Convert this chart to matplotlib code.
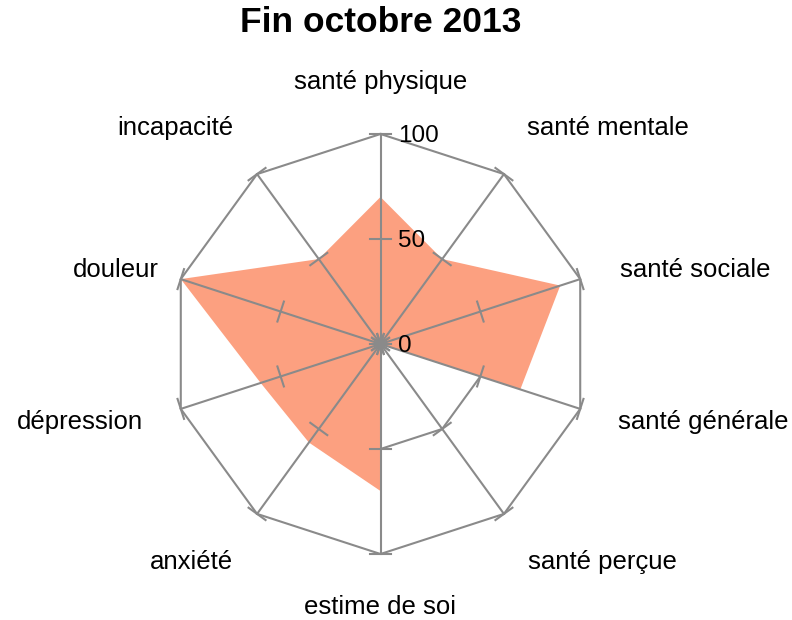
import matplotlib
matplotlib.use('Agg')
from matplotlib import pyplot as plt
import numpy as np

# axes, clockwise from the top
categories = ['santé physique', 'santé mentale', 'santé sociale', 'santé générale',
              'santé perçue', 'estime de soi', 'anxiété', 'dépression',
              'douleur', 'incapacité']
values = [70, 50, 90, 70, 0, 70, 58, 60, 100, 50]
scale_ticks = [0, 50, 100]
title = 'Fin octobre 2013'

# where the category labels sit (in radius units)
label_x = [0, 1.083, 1.498, 1.536, 1.055, 0, -0.898, -1.431, -1.26, -0.979]
label_y = [1.248, 1.029, 0.352, -0.371, -1.038, -1.252, -1.038, -0.371, 0.352, 1.029]

GREY = '#8a8a8a'
FILL = '#FCA080'

plt.rcParams['font.family'] = ['Liberation Sans', 'DejaVu Sans']

fig = plt.figure(figsize=(7.92, 6.2), dpi=100)
ax = fig.add_axes([0, 0, 1, 1])
ax.set_xlim(-380.5 / 210, (792 - 380.5) / 210)
ax.set_ylim((344 - 620) / 210, 344 / 210)
ax.axis('off')

n = len(categories)
ang = np.pi / 2 - 2 * np.pi * np.arange(n) / n
ux, uy = np.cos(ang), np.sin(ang)
top = max(scale_ticks)

# 50 ring sits under the filled shape
r = scale_ticks[1] / top
ax.plot(np.append(ux, ux[0]) * r, np.append(uy, uy[0]) * r, color=GREY, lw=1.5, zorder=1)

# data polygon
v = np.array(values) / top
ax.fill(ux * v, uy * v, color=FILL, lw=0, zorder=2)

# outer ring and spokes
ax.plot(np.append(ux, ux[0]), np.append(uy, uy[0]), color=GREY, lw=1.5, zorder=3)
for i in range(n):
    ax.plot([0, ux[i]], [0, uy[i]], color=GREY, lw=1.5, zorder=3)
    # ticks across each spoke
    px, py = -uy[i], ux[i]
    for t in scale_ticks:
        r = t / top
        ax.plot([ux[i] * r - px * 0.05, ux[i] * r + px * 0.05],
                [uy[i] * r - py * 0.05, uy[i] * r + py * 0.05],
                color=GREY, lw=1.5, zorder=3)

for t in scale_ticks:
    ax.text(0.083, t / top - 0.008, str(t), ha='left', va='center', fontsize=17.5, zorder=4)

for lab, x, y in zip(categories, label_x, label_y):
    ax.text(x, y, lab, ha='center', va='center', fontsize=18.5)

ax.text(0, (344 - 23) / 210, title, ha='center', va='center', fontsize=25.5, fontweight='bold')

plt.savefig('out.png', dpi=100)
